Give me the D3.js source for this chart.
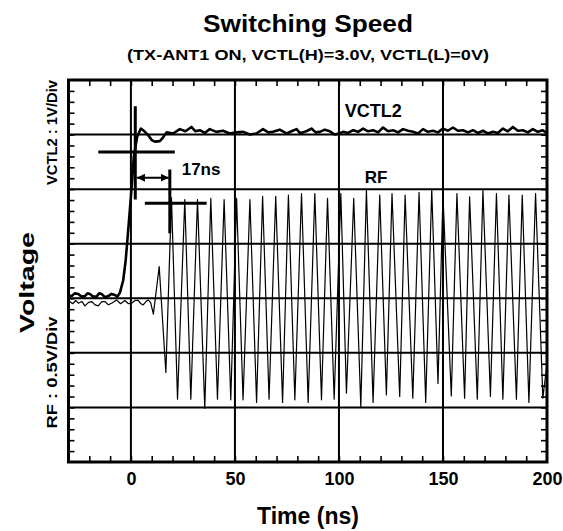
<!DOCTYPE html>
<html>
<head>
<meta charset="utf-8">
<script src="https://cdn.jsdelivr.net/npm/d3@7"></script>
<style>
  body { margin: 0; background: #fff; }
  text { font-family: "Liberation Sans", Arial, sans-serif; font-weight: bold; fill: #000; }
</style>
</head>
<body>
<div id="chart"></div>
<script>
// VCTL2 trace, volts (1 V/div, 0 V sits on the 3rd grid line)
var vctlTime = [-30, -28.5, -27, -25.3, -23.7, -22.1, -20.9, -19.7, -18.1, -16.5, -15.3, -14.1, -12.5, -10.9, -9.3, -7.7, -6.5, -5.3,
  -3.7, -2.5, -1.3, 0, 1.4, 3.0, 4.8, 6.5, 8.3, 10, 11.5, 13.9, 15.5, 17.1, 20.3, 23.5, 26.2, 29.1, 31.0, 33.1, 35.5, 37.9,
  41.0, 44.3, 47.5, 50.8, 54.0, 57.2, 60.3, 63.5, 66.0, 68.3, 71.5, 74.8, 77.2, 79.6, 81.2, 82.8, 84.8, 86.8, 88.8, 90.8,
  93.2, 95.6, 98.0, 100, 102, 104.4, 106.8, 109.2, 111.6, 114, 116.4, 118.8, 121.2, 123.6, 126, 128.4, 130.8, 133.2,
  135.6, 138, 140.4, 142.8, 145.2, 147.6, 150, 152.4, 154.8, 157.2, 159.6, 162, 164.4, 166.8, 169.2, 171.6, 174, 176.4,
  178.8, 181.2, 183.6, 186, 188.4, 190.8, 193.2, 195.6, 198, 200];
var vctlVolt = [0.05, 0.04, 0.09, 0.08, 0.03, 0.04, 0.09, 0.08, 0.03, 0.03, 0.09, 0.08, 0.02, 0.04, 0.08, 0.06, 0.03, 0.10,
  0.33, 0.70, 1.25, 1.86, 2.60, 2.96, 3.11, 3.06, 2.99, 2.90, 2.87, 2.88, 2.95, 3.04, 3.02, 3.10, 3.06, 3.14, 3.06, 3.08, 3.03, 3.10,
  3.05, 3.07, 3.02, 3.04, 3.05, 3.00, 3.02, 3.10, 3.04, 3.05, 3.09, 3.02, 3.06, 3.10, 3.03, 3.04, 3.07, 3.11, 3.04, 3.05,
  3.09, 3.06, 3.00, 3.02, 3.05, 3.03, 3.08, 3.05, 3.11, 3.06, 3.08, 3.04, 3.13, 3.06, 3.08, 3.04, 3.10, 3.07,
  3.05, 3.02, 3.10, 3.05, 3.07, 3.04, 3.11, 3.07, 3.13, 3.07, 3.08, 3.04, 3.08, 3.03, 3.07, 3.02, 3.05, 3.03,
  3.11, 3.06, 3.14, 3.07, 3.08, 3.04, 3.10, 3.05, 3.08, 3.02];

// RF trace, volts (0.5 V/div, centred on the 3rd grid line)
var rfTime = [-30, -28, -26.5, -25.3, -23.5, -22.1, -20.5, -18.9, -17.2, -15.7, -14, -12.5, -10.8, -9.3, -8, -6.9, -5, -2.9,
  -1.2, 0.3, 2, 3.5, 4.8, 5.9, 7.2, 8.3, 9.5, 10.8, 13.6,
  16.8, 19.5, 22.4, 25.9, 28.8, 32.0, 35.5, 38.4, 41.6, 44.8, 48.0, 50.8, 53.9, 57.2, 60.4, 63.3, 66.4, 69.6, 72.9,
  75.7, 78.8, 82.0, 85.2, 88.4, 91.6, 94.5, 97.7, 100.9, 103.6, 107.1, 110.5, 113.2, 116.4, 119.6, 122.8, 125.5,
  129.2, 131.8, 135.5, 138.5, 141.7, 144.6, 147.6, 150.0, 154.0, 156.7, 160.4, 162.8, 166.5, 169.2, 172.8, 175.7,
  178.8, 181.7, 185.3, 188.1, 191.3, 194.5, 198.0, 200];
var rfVolt = [-0.02, -0.05, -0.02, -0.045, -0.03, -0.07, -0.04, -0.03, -0.06, -0.07, -0.03, -0.03, -0.06, -0.045, -0.03, -0.015, -0.05, -0.02,
  -0.05, -0.045, -0.02, -0.02, -0.05, -0.06, -0.03, -0.015, -0.04, -0.145, 0.29,
  -0.68, 0.92, -0.925, 0.905, -0.925, 0.905, -1.01, 0.915, -0.925, 0.905, -0.93, 0.915, -0.93, 0.905, -0.955, 0.935, -0.925, 0.935, -0.955,
  0.945, -0.93, 0.96, -0.955, 0.96, -0.93, 0.915, -0.925, 0.96, -0.87, 0.915, -0.995, 0.99, -0.955, 0.945, -0.885, 0.96,
  -0.90, 0.945, -0.915, 0.97, -0.955, 1.0, -0.78, 0.945, -0.895, 0.96, -0.915, 0.93, -0.925, 0.99, -0.90, 0.96,
  -0.925, 0.945, -0.925, 0.945, -0.955, 0.96, -0.915, -0.6];

var xTickLabels = [0, 50, 100, 150, 200];
var xGrid = [0, 50, 100, 150];
var yGrid = [1, 2, 3, 4, 5, 6];

// plot frame (window.top is reserved, so prefixed names)
var plotL = 68.5, plotR = 547, plotT = 80, plotB = 462;

var x = d3.scaleLinear().domain([-30, 200]).range([plotL, plotR]);
var yDiv = d3.scaleLinear().domain([0, 7]).range([plotB, plotT]);
var yVctl = d3.scaleLinear().domain([-3, 4]).range([plotB, plotT]);
var yRf = d3.scaleLinear().domain([-1.5, 2]).range([plotB, plotT]);

var svg = d3.select("#chart").append("svg")
            .attr("width", 563)
            .attr("height", 531);

var defs = svg.append("defs");
defs.append("clipPath").attr("id", "plot")
   .append("rect")
   .attr("x", plotL).attr("y", plotT)
   .attr("width", plotR - plotL).attr("height", plotB - plotT);

var arrow = defs.append("marker")
   .attr("id", "head")
   .attr("viewBox", "0 0 10 10")
   .attr("refX", 10).attr("refY", 5)
   .attr("markerUnits", "userSpaceOnUse")
   .attr("markerWidth", 8).attr("markerHeight", 8)
   .attr("orient", "auto-start-reverse");
arrow.append("path").attr("d", "M0,0L10,5L0,10Z").style("fill", "#000");

// grid
svg.selectAll("line.vgrid")
   .data(xGrid)
   .enter()
   .append("line")
   .attr("class", "vgrid")
   .attr("x1", function (d) { return x(d); })
   .attr("x2", function (d) { return x(d); })
   .attr("y1", plotT)
   .attr("y2", plotB)
   .style("stroke", "#000")
   .style("stroke-width", 2);

svg.selectAll("line.hgrid")
   .data(yGrid)
   .enter()
   .append("line")
   .attr("class", "hgrid")
   .attr("x1", plotL)
   .attr("x2", plotR)
   .attr("y1", function (d) { return yDiv(d); })
   .attr("y2", function (d) { return yDiv(d); })
   .style("stroke", "#000")
   .style("stroke-width", 2);

// inward minor ticks on all four sides
var xMinor = d3.range(-20, 200, 10);
var yMinor = d3.range(1, 35).map(function (i) { return i / 5; });

function minorAxis(axis, tx, ty) {
  var g = svg.append("g")
     .attr("transform", "translate(" + tx + "," + ty + ")")
     .call(axis.tickSize(-6).tickFormat(""));
  g.select(".domain").remove();
  g.selectAll("line").style("stroke", "#000").style("stroke-width", 1.6);
}
minorAxis(d3.axisBottom(x).tickValues(xMinor), 0, plotB);
minorAxis(d3.axisTop(x).tickValues(xMinor), 0, plotT);
minorAxis(d3.axisLeft(yDiv).tickValues(yMinor), plotL, 0);
minorAxis(d3.axisRight(yDiv).tickValues(yMinor), plotR, 0);

// traces
var vctlLine = d3.line()
   .x(function (d) { return x(d[0]); })
   .y(function (d) { return yVctl(d[1]); });
var rfLine = d3.line()
   .x(function (d) { return x(d[0]); })
   .y(function (d) { return yRf(d[1]); });

svg.append("path")
   .datum(d3.zip(rfTime, rfVolt))
   .attr("clip-path", "url(#plot)")
   .attr("d", rfLine)
   .style("fill", "none")
   .style("stroke", "#000")
   .style("stroke-width", 1.2)
   .style("stroke-linejoin", "round");

svg.append("path")
   .datum(d3.zip(vctlTime, vctlVolt))
   .attr("clip-path", "url(#plot)")
   .attr("d", vctlLine)
   .style("fill", "none")
   .style("stroke", "#000")
   .style("stroke-width", 2.6)
   .style("stroke-linejoin", "round");

// crosshair markers and the 17 ns arrow
var crosshairs = [
  { t: 2.1, tLo: -15.7, tHi: 21.1, d: 5.68, dLo: 4.81, dHi: 6.52 },
  { t: 18.7, tLo: 6.7, tHi: 36.4, d: 4.74, dLo: 4.19, dHi: 5.36 }
];
crosshairs.forEach(function (c) {
  svg.append("line")
     .attr("x1", x(c.tLo)).attr("x2", x(c.tHi))
     .attr("y1", yDiv(c.d)).attr("y2", yDiv(c.d))
     .style("stroke", "#000").style("stroke-width", 3);
  svg.append("line")
     .attr("x1", x(c.t)).attr("x2", x(c.t))
     .attr("y1", yDiv(c.dLo)).attr("y2", yDiv(c.dHi))
     .style("stroke", "#000").style("stroke-width", 3);
});

svg.append("line")
   .attr("x1", x(2.9)).attr("x2", x(18.2))
   .attr("y1", yDiv(5.21)).attr("y2", yDiv(5.21))
   .attr("marker-start", "url(#head)")
   .attr("marker-end", "url(#head)")
   .style("stroke", "#000").style("stroke-width", 2);

// frame
svg.append("rect")
   .attr("x", plotL).attr("y", plotT)
   .attr("width", plotR - plotL).attr("height", plotB - plotT)
   .style("fill", "none")
   .style("stroke", "#000")
   .style("stroke-width", 3);

// in-plot labels
var notes = [
  { text: "VCTL2", t: 102.8, d: 6.32, size: 18 },
  { text: "RF", t: 112.4, d: 5.11, size: 17 },
  { text: "17ns", t: 24.4, d: 5.26, size: 17 }
];
svg.selectAll("text.note")
   .data(notes)
   .enter()
   .append("text")
   .attr("class", "note")
   .attr("x", function (d) { return x(d.t); })
   .attr("y", function (d) { return yDiv(d.d); })
   .style("font-size", function (d) { return d.size + "px"; })
   .text(function (d) { return d.text; });

// x tick labels
var xAxis = svg.append("g")
   .attr("transform", "translate(0," + plotB + ")")
   .call(d3.axisBottom(x).tickValues(xTickLabels).tickSize(0));
xAxis.select(".domain").remove();
xAxis.selectAll("text")
   .attr("y", 23).attr("dy", 0)
   .style("font-size", "18px")
   .style("font-family", "'Liberation Sans', Arial, sans-serif")
   .style("font-weight", "bold")
   .style("fill", "#000");

// titles
svg.append("text")
   .attr("x", 308).attr("y", 32)
   .attr("text-anchor", "middle")
   .attr("textLength", 210).attr("lengthAdjust", "spacingAndGlyphs")
   .style("font-size", "24px")
   .text("Switching Speed");

svg.append("text")
   .attr("x", 308).attr("y", 60)
   .attr("text-anchor", "middle")
   .attr("textLength", 362).attr("lengthAdjust", "spacingAndGlyphs")
   .style("font-size", "15px")
   .text("(TX-ANT1 ON, VCTL(H)=3.0V, VCTL(L)=0V)");

svg.append("text")
   .attr("x", 308).attr("y", 524)
   .attr("text-anchor", "middle")
   .style("font-size", "23px")
   .text("Time (ns)");

var sideLabels = [
  { text: "Voltage", cx: 34, cy: 282.5, size: 21, len: 101 },
  { text: "VCTL2 : 1V/Div", cx: 56.5, cy: 132.5, size: 14.5, len: 105 },
  { text: "RF : 0.5V/Div", cx: 56.5, cy: 372.5, size: 14.5, len: 112 }
];
svg.selectAll("text.side")
   .data(sideLabels)
   .enter()
   .append("text")
   .attr("class", "side")
   .attr("text-anchor", "middle")
   .attr("transform", function (d) { return "translate(" + d.cx + "," + d.cy + ") rotate(-90)"; })
   .attr("textLength", function (d) { return d.len; })
   .attr("lengthAdjust", "spacingAndGlyphs")
   .style("font-size", function (d) { return d.size + "px"; })
   .text(function (d) { return d.text; });
</script>
</body>
</html>
